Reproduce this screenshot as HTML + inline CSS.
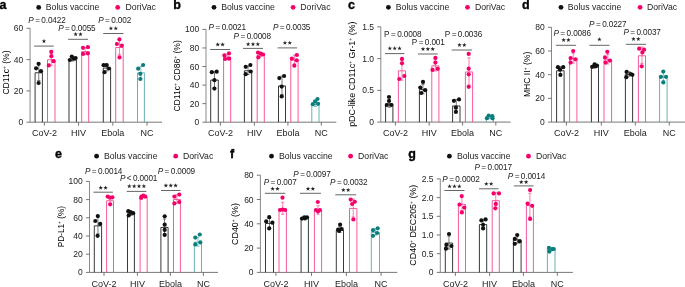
<!DOCTYPE html>
<html><head><meta charset="utf-8"><style>
html,body{margin:0;padding:0;background:#fff;overflow:hidden;width:685px;height:287px;}
svg{display:block;font-family:"Liberation Sans", sans-serif;}
svg{will-change:transform;}
</style></head><body>
<svg width="685" height="287" viewBox="0 0 685 287">
<text x="-0.5" y="8.8" font-size="12.5" text-anchor="start" font-weight="bold" font-style="normal" fill="#000" stroke="#000" stroke-width="0.35">a</text>
<circle cx="38.7" cy="7.4" r="2.4" fill="#111"/>
<text x="45.8" y="10.4" font-size="8.7" text-anchor="start" font-weight="normal" font-style="normal" fill="#222" >Bolus vaccine</text>
<circle cx="117.7" cy="7.4" r="2.4" fill="#f5006a"/>
<text x="125.6" y="10.4" font-size="8.7" text-anchor="start" font-weight="normal" font-style="normal" fill="#222" >DoriVac</text>
<line x1="30.1" y1="28.3" x2="30.1" y2="122.2" stroke="#6c6c6c" stroke-width="0.8"/>
<line x1="30.1" y1="122.2" x2="162" y2="122.2" stroke="#555" stroke-width="0.8"/>
<line x1="26.5" y1="122.2" x2="30.1" y2="122.2" stroke="#555" stroke-width="0.8"/>
<text x="23.3" y="125.2" font-size="8.5" text-anchor="end" font-weight="normal" font-style="normal" fill="#222" >0</text>
<line x1="26.5" y1="90.9" x2="30.1" y2="90.9" stroke="#555" stroke-width="0.8"/>
<text x="23.3" y="93.9" font-size="8.5" text-anchor="end" font-weight="normal" font-style="normal" fill="#222" >20</text>
<line x1="26.5" y1="59.6" x2="30.1" y2="59.6" stroke="#555" stroke-width="0.8"/>
<text x="23.3" y="62.6" font-size="8.5" text-anchor="end" font-weight="normal" font-style="normal" fill="#222" >40</text>
<line x1="26.5" y1="28.3" x2="30.1" y2="28.3" stroke="#555" stroke-width="0.8"/>
<text x="23.3" y="31.3" font-size="8.5" text-anchor="end" font-weight="normal" font-style="normal" fill="#222" >60</text>
<line x1="44.4" y1="122.2" x2="44.4" y2="125.7" stroke="#555" stroke-width="0.8"/>
<text x="44.4" y="135.6" font-size="9.0" text-anchor="middle" font-weight="normal" font-style="normal" fill="#222" >CoV-2</text>
<line x1="78.6" y1="122.2" x2="78.6" y2="125.7" stroke="#555" stroke-width="0.8"/>
<text x="78.6" y="135.6" font-size="9.0" text-anchor="middle" font-weight="normal" font-style="normal" fill="#222" >HIV</text>
<line x1="112.8" y1="122.2" x2="112.8" y2="125.7" stroke="#555" stroke-width="0.8"/>
<text x="112.8" y="135.6" font-size="9.0" text-anchor="middle" font-weight="normal" font-style="normal" fill="#222" >Ebola</text>
<line x1="147.0" y1="122.2" x2="147.0" y2="125.7" stroke="#555" stroke-width="0.8"/>
<text x="147.0" y="135.6" font-size="9.0" text-anchor="middle" font-weight="normal" font-style="normal" fill="#222" >NC</text>
<path d="M35.10,122.2 V72.75 H42.40 V122.2" fill="none" stroke="#222" stroke-width="0.9"/>
<line x1="38.75" y1="64.09740894594884" x2="38.75" y2="80.50259105405115" stroke="#444" stroke-width="0.7"/>
<line x1="37.15" y1="64.09740894594884" x2="40.35" y2="64.09740894594884" stroke="#444" stroke-width="0.7"/>
<line x1="37.15" y1="80.50259105405115" x2="40.35" y2="80.50259105405115" stroke="#444" stroke-width="0.7"/>
<circle cx="38.6" cy="63.8" r="2.1" fill="#111"/>
<circle cx="36.1" cy="68.3" r="2.1" fill="#111"/>
<circle cx="41.0" cy="71.2" r="2.1" fill="#111"/>
<circle cx="38.6" cy="83.0" r="2.1" fill="#111"/>
<path d="M47.50,122.2 V59.75 H55.00 V122.2" fill="none" stroke="#f74690" stroke-width="0.9"/>
<line x1="51.25" y1="53.38420194169318" x2="51.25" y2="65.21579805830682" stroke="#f74690" stroke-width="0.7"/>
<line x1="49.65" y1="53.38420194169318" x2="52.85" y2="53.38420194169318" stroke="#f74690" stroke-width="0.7"/>
<line x1="49.65" y1="65.21579805830682" x2="52.85" y2="65.21579805830682" stroke="#f74690" stroke-width="0.7"/>
<circle cx="51.3" cy="51.8" r="2.1" fill="#f5006a"/>
<circle cx="51.4" cy="56.2" r="2.1" fill="#f5006a"/>
<circle cx="53.5" cy="61.2" r="2.1" fill="#f5006a"/>
<circle cx="48.8" cy="65.4" r="2.1" fill="#f5006a"/>
<path d="M69.00,122.2 V60.05 H76.40 V122.2" fill="none" stroke="#222" stroke-width="0.9"/>
<line x1="72.7" y1="58.20238298045089" x2="72.7" y2="60.99761701954911" stroke="#444" stroke-width="0.7"/>
<line x1="71.10000000000001" y1="58.20238298045089" x2="74.3" y2="58.20238298045089" stroke="#444" stroke-width="0.7"/>
<line x1="71.10000000000001" y1="60.99761701954911" x2="74.3" y2="60.99761701954911" stroke="#444" stroke-width="0.7"/>
<circle cx="69.8" cy="60.0" r="2.1" fill="#111"/>
<circle cx="71.8" cy="56.6" r="2.1" fill="#111"/>
<circle cx="73.9" cy="58.5" r="2.1" fill="#111"/>
<circle cx="75.6" cy="58.1" r="2.1" fill="#111"/>
<path d="M81.70,122.2 V51.65 H88.70 V122.2" fill="none" stroke="#f74690" stroke-width="0.9"/>
<line x1="85.2" y1="47.66116780090758" x2="85.2" y2="54.73883219909243" stroke="#f74690" stroke-width="0.7"/>
<line x1="83.60000000000001" y1="47.66116780090758" x2="86.8" y2="47.66116780090758" stroke="#f74690" stroke-width="0.7"/>
<line x1="83.60000000000001" y1="54.73883219909243" x2="86.8" y2="54.73883219909243" stroke="#f74690" stroke-width="0.7"/>
<circle cx="83.0" cy="47.8" r="2.1" fill="#f5006a"/>
<circle cx="87.9" cy="47.2" r="2.1" fill="#f5006a"/>
<circle cx="83.0" cy="53.9" r="2.1" fill="#f5006a"/>
<circle cx="87.9" cy="53.3" r="2.1" fill="#f5006a"/>
<path d="M103.30,122.2 V68.05 H110.60 V122.2" fill="none" stroke="#222" stroke-width="0.9"/>
<line x1="106.94999999999999" y1="64.26495877086954" x2="106.94999999999999" y2="70.93504122913045" stroke="#444" stroke-width="0.7"/>
<line x1="105.35" y1="64.26495877086954" x2="108.54999999999998" y2="64.26495877086954" stroke="#444" stroke-width="0.7"/>
<line x1="105.35" y1="70.93504122913045" x2="108.54999999999998" y2="70.93504122913045" stroke="#444" stroke-width="0.7"/>
<circle cx="103.6" cy="65.2" r="2.1" fill="#111"/>
<circle cx="106.6" cy="65.2" r="2.1" fill="#111"/>
<circle cx="109.0" cy="68.5" r="2.1" fill="#111"/>
<circle cx="104.5" cy="72.2" r="2.1" fill="#111"/>
<path d="M115.70,122.2 V47.45 H123.20 V122.2" fill="none" stroke="#f74690" stroke-width="0.9"/>
<line x1="119.45" y1="39.335362587397455" x2="119.45" y2="54.664637412602545" stroke="#f74690" stroke-width="0.7"/>
<line x1="117.85000000000001" y1="39.335362587397455" x2="121.05" y2="39.335362587397455" stroke="#f74690" stroke-width="0.7"/>
<line x1="117.85000000000001" y1="54.664637412602545" x2="121.05" y2="54.664637412602545" stroke="#f74690" stroke-width="0.7"/>
<circle cx="119.4" cy="39.4" r="2.1" fill="#f5006a"/>
<circle cx="116.9" cy="44.0" r="2.1" fill="#f5006a"/>
<circle cx="121.9" cy="45.6" r="2.1" fill="#f5006a"/>
<circle cx="119.5" cy="57.4" r="2.1" fill="#f5006a"/>
<path d="M137.50,122.2 V72.85 H144.40 V122.2" fill="none" stroke="#5aa8a8" stroke-width="0.9"/>
<line x1="140.95" y1="66.30170788936225" x2="140.95" y2="78.49829211063776" stroke="#5aa8a8" stroke-width="0.7"/>
<line x1="139.35" y1="66.30170788936225" x2="142.54999999999998" y2="66.30170788936225" stroke="#5aa8a8" stroke-width="0.7"/>
<line x1="139.35" y1="78.49829211063776" x2="142.54999999999998" y2="78.49829211063776" stroke="#5aa8a8" stroke-width="0.7"/>
<circle cx="143.1" cy="65.0" r="2.1" fill="#0a7e7e"/>
<circle cx="138.2" cy="68.7" r="2.1" fill="#0a7e7e"/>
<circle cx="140.3" cy="73.8" r="2.1" fill="#0a7e7e"/>
<circle cx="140.3" cy="79.0" r="2.1" fill="#0a7e7e"/>
<line x1="34.1" y1="46.1" x2="53.8" y2="46.1" stroke="#666" stroke-width="1.0"/>
<polygon points="43.95,38.85 44.51,40.43 46.18,40.47 44.85,41.49 45.33,43.10 43.95,42.15 42.57,43.10 43.05,41.49 41.72,40.47 43.39,40.43" fill="#222"/>
<line x1="68.1" y1="39.3" x2="88.0" y2="39.3" stroke="#666" stroke-width="1.0"/>
<polygon points="75.62,31.95 76.18,33.53 77.86,33.57 76.53,34.59 77.01,36.20 75.62,35.25 74.24,36.20 74.72,34.59 73.39,33.57 75.07,33.53" fill="#222"/>
<polygon points="80.47,31.95 81.03,33.53 82.71,33.57 81.38,34.59 81.86,36.20 80.47,35.25 79.09,36.20 79.57,34.59 78.24,33.57 79.92,33.53" fill="#222"/>
<line x1="103.2" y1="33.5" x2="123.5" y2="33.5" stroke="#666" stroke-width="1.0"/>
<polygon points="110.92,26.05 111.48,27.63 113.16,27.67 111.83,28.69 112.31,30.30 110.92,29.35 109.54,30.30 110.02,28.69 108.69,27.67 110.37,27.63" fill="#222"/>
<polygon points="115.77,26.05 116.33,27.63 118.01,27.67 116.68,28.69 117.16,30.30 115.77,29.35 114.39,30.30 114.87,28.69 113.54,27.67 115.22,27.63" fill="#222"/>
<text x="28.3" y="22.7" font-size="8.2" letter-spacing="-0.12" fill="#222"><tspan font-style="italic">P</tspan> = 0.0422</text>
<text x="58.2" y="31.4" font-size="8.2" letter-spacing="-0.12" fill="#222"><tspan font-style="italic">P</tspan> = 0.0055</text>
<text x="98.2" y="22.7" font-size="8.2" letter-spacing="-0.12" fill="#222"><tspan font-style="italic">P</tspan> = 0.002</text>
<text transform="translate(9.1,72.5) rotate(-90) scale(0.8929,1)" font-size="9.63" text-anchor="middle" fill="#000">CD11c<tspan font-size="5.5" dy="-3.2">+</tspan><tspan dy="3.2"> </tspan>(%)</text>
<text x="173.3" y="9.0" font-size="12.5" text-anchor="start" font-weight="bold" font-style="normal" fill="#000" stroke="#000" stroke-width="0.35">b</text>
<circle cx="214.0" cy="7.3" r="2.4" fill="#111"/>
<text x="221.2" y="10.3" font-size="8.7" text-anchor="start" font-weight="normal" font-style="normal" fill="#222" >Bolus vaccine</text>
<circle cx="293.1" cy="7.3" r="2.4" fill="#f5006a"/>
<text x="300.3" y="10.3" font-size="8.7" text-anchor="start" font-weight="normal" font-style="normal" fill="#222" >DoriVac</text>
<line x1="206.0" y1="29.4" x2="206.0" y2="122.2" stroke="#6c6c6c" stroke-width="0.8"/>
<line x1="206.0" y1="122.2" x2="336.3" y2="122.2" stroke="#555" stroke-width="0.8"/>
<line x1="202.4" y1="122.2" x2="206.0" y2="122.2" stroke="#555" stroke-width="0.8"/>
<text x="199.2" y="125.2" font-size="8.5" text-anchor="end" font-weight="normal" font-style="normal" fill="#222" >0</text>
<line x1="202.4" y1="103.64" x2="206.0" y2="103.64" stroke="#555" stroke-width="0.8"/>
<text x="199.2" y="106.64" font-size="8.5" text-anchor="end" font-weight="normal" font-style="normal" fill="#222" >20</text>
<line x1="202.4" y1="85.08" x2="206.0" y2="85.08" stroke="#555" stroke-width="0.8"/>
<text x="199.2" y="88.08" font-size="8.5" text-anchor="end" font-weight="normal" font-style="normal" fill="#222" >40</text>
<line x1="202.4" y1="66.52" x2="206.0" y2="66.52" stroke="#555" stroke-width="0.8"/>
<text x="199.2" y="69.52" font-size="8.5" text-anchor="end" font-weight="normal" font-style="normal" fill="#222" >60</text>
<line x1="202.4" y1="47.96" x2="206.0" y2="47.96" stroke="#555" stroke-width="0.8"/>
<text x="199.2" y="50.96" font-size="8.5" text-anchor="end" font-weight="normal" font-style="normal" fill="#222" >80</text>
<line x1="202.4" y1="29.4" x2="206.0" y2="29.4" stroke="#555" stroke-width="0.8"/>
<text x="199.2" y="32.4" font-size="8.5" text-anchor="end" font-weight="normal" font-style="normal" fill="#222" >100</text>
<line x1="220.4" y1="122.2" x2="220.4" y2="125.7" stroke="#555" stroke-width="0.8"/>
<text x="220.4" y="135.6" font-size="9.0" text-anchor="middle" font-weight="normal" font-style="normal" fill="#222" >CoV-2</text>
<line x1="254.4" y1="122.2" x2="254.4" y2="125.7" stroke="#555" stroke-width="0.8"/>
<text x="254.4" y="135.6" font-size="9.0" text-anchor="middle" font-weight="normal" font-style="normal" fill="#222" >HIV</text>
<line x1="287.9" y1="122.2" x2="287.9" y2="125.7" stroke="#555" stroke-width="0.8"/>
<text x="287.9" y="135.6" font-size="9.0" text-anchor="middle" font-weight="normal" font-style="normal" fill="#222" >Ebola</text>
<line x1="321.3" y1="122.2" x2="321.3" y2="125.7" stroke="#555" stroke-width="0.8"/>
<text x="321.3" y="135.6" font-size="9.0" text-anchor="middle" font-weight="normal" font-style="normal" fill="#222" >NC</text>
<path d="M210.70,122.2 V80.05 H218.30 V122.2" fill="none" stroke="#222" stroke-width="0.9"/>
<line x1="214.5" y1="71.6332461650515" x2="214.5" y2="87.56675383494849" stroke="#444" stroke-width="0.7"/>
<line x1="212.9" y1="71.6332461650515" x2="216.1" y2="71.6332461650515" stroke="#444" stroke-width="0.7"/>
<line x1="212.9" y1="87.56675383494849" x2="216.1" y2="87.56675383494849" stroke="#444" stroke-width="0.7"/>
<circle cx="211.8" cy="72.2" r="2.1" fill="#111"/>
<circle cx="216.7" cy="71.7" r="2.1" fill="#111"/>
<circle cx="214.4" cy="80.2" r="2.1" fill="#111"/>
<circle cx="214.4" cy="88.6" r="2.1" fill="#111"/>
<path d="M223.60,122.2 V57.05 H230.70 V122.2" fill="none" stroke="#f74690" stroke-width="0.9"/>
<line x1="227.14999999999998" y1="53.90138924629727" x2="227.14999999999998" y2="59.29861075370273" stroke="#f74690" stroke-width="0.7"/>
<line x1="225.54999999999998" y1="53.90138924629727" x2="228.74999999999997" y2="53.90138924629727" stroke="#f74690" stroke-width="0.7"/>
<line x1="225.54999999999998" y1="59.29861075370273" x2="228.74999999999997" y2="59.29861075370273" stroke="#f74690" stroke-width="0.7"/>
<circle cx="224.4" cy="55.4" r="2.1" fill="#f5006a"/>
<circle cx="229.0" cy="53.4" r="2.1" fill="#f5006a"/>
<circle cx="225.1" cy="59.0" r="2.1" fill="#f5006a"/>
<circle cx="229.0" cy="58.7" r="2.1" fill="#f5006a"/>
<path d="M244.40,122.2 V70.75 H251.70 V122.2" fill="none" stroke="#222" stroke-width="0.9"/>
<line x1="248.05" y1="66.07438367414487" x2="248.05" y2="74.52561632585513" stroke="#444" stroke-width="0.7"/>
<line x1="246.45000000000002" y1="66.07438367414487" x2="249.65" y2="66.07438367414487" stroke="#444" stroke-width="0.7"/>
<line x1="246.45000000000002" y1="74.52561632585513" x2="249.65" y2="74.52561632585513" stroke="#444" stroke-width="0.7"/>
<circle cx="245.7" cy="66.8" r="2.1" fill="#111"/>
<circle cx="250.4" cy="65.0" r="2.1" fill="#111"/>
<circle cx="245.7" cy="74.2" r="2.1" fill="#111"/>
<circle cx="250.7" cy="71.5" r="2.1" fill="#111"/>
<path d="M257.20,122.2 V54.95 H264.30 V122.2" fill="none" stroke="#f74690" stroke-width="0.9"/>
<line x1="260.75" y1="52.460392194562885" x2="260.75" y2="56.539607805437115" stroke="#f74690" stroke-width="0.7"/>
<line x1="259.15" y1="52.460392194562885" x2="262.35" y2="52.460392194562885" stroke="#f74690" stroke-width="0.7"/>
<line x1="259.15" y1="56.539607805437115" x2="262.35" y2="56.539607805437115" stroke="#f74690" stroke-width="0.7"/>
<circle cx="258.0" cy="52.5" r="2.1" fill="#f5006a"/>
<circle cx="260.8" cy="53.7" r="2.1" fill="#f5006a"/>
<circle cx="263.1" cy="54.5" r="2.1" fill="#f5006a"/>
<circle cx="258.4" cy="57.3" r="2.1" fill="#f5006a"/>
<path d="M278.50,122.2 V85.95 H285.50 V122.2" fill="none" stroke="#222" stroke-width="0.9"/>
<line x1="282.0" y1="76.20793349141323" x2="282.0" y2="94.79206650858677" stroke="#444" stroke-width="0.7"/>
<line x1="280.4" y1="76.20793349141323" x2="283.6" y2="76.20793349141323" stroke="#444" stroke-width="0.7"/>
<line x1="280.4" y1="94.79206650858677" x2="283.6" y2="94.79206650858677" stroke="#444" stroke-width="0.7"/>
<circle cx="279.3" cy="78.1" r="2.1" fill="#111"/>
<circle cx="284.1" cy="76.0" r="2.1" fill="#111"/>
<circle cx="281.7" cy="86.6" r="2.1" fill="#111"/>
<circle cx="281.7" cy="96.4" r="2.1" fill="#111"/>
<path d="M290.80,122.2 V59.95 H298.10 V122.2" fill="none" stroke="#f74690" stroke-width="0.9"/>
<line x1="294.45000000000005" y1="55.05599654965631" x2="294.45000000000005" y2="63.94400345034369" stroke="#f74690" stroke-width="0.7"/>
<line x1="292.85" y1="55.05599654965631" x2="296.05000000000007" y2="55.05599654965631" stroke="#f74690" stroke-width="0.7"/>
<line x1="292.85" y1="63.94400345034369" x2="296.05000000000007" y2="63.94400345034369" stroke="#f74690" stroke-width="0.7"/>
<circle cx="296.9" cy="55.0" r="2.1" fill="#f5006a"/>
<circle cx="291.9" cy="58.7" r="2.1" fill="#f5006a"/>
<circle cx="296.7" cy="60.3" r="2.1" fill="#f5006a"/>
<circle cx="294.3" cy="65.7" r="2.1" fill="#f5006a"/>
<path d="M311.80,122.2 V104.55 H319.00 V122.2" fill="none" stroke="#5aa8a8" stroke-width="0.9"/>
<line x1="315.4" y1="101.69168108424154" x2="315.4" y2="106.50831891575845" stroke="#5aa8a8" stroke-width="0.7"/>
<line x1="313.79999999999995" y1="101.69168108424154" x2="317.0" y2="101.69168108424154" stroke="#5aa8a8" stroke-width="0.7"/>
<line x1="313.79999999999995" y1="106.50831891575845" x2="317.0" y2="106.50831891575845" stroke="#5aa8a8" stroke-width="0.7"/>
<circle cx="312.8" cy="104.2" r="2.1" fill="#0a7e7e"/>
<circle cx="315.1" cy="101.4" r="2.1" fill="#0a7e7e"/>
<circle cx="317.5" cy="99.0" r="2.1" fill="#0a7e7e"/>
<circle cx="318.1" cy="103.8" r="2.1" fill="#0a7e7e"/>
<line x1="210.2" y1="49.5" x2="230.1" y2="49.5" stroke="#666" stroke-width="1.0"/>
<polygon points="217.72,42.25 218.28,43.83 219.96,43.87 218.63,44.89 219.11,46.50 217.72,45.55 216.34,46.50 216.82,44.89 215.49,43.87 217.17,43.83" fill="#222"/>
<polygon points="222.57,42.25 223.13,43.83 224.81,43.87 223.48,44.89 223.96,46.50 222.57,45.55 221.19,46.50 221.67,44.89 220.34,43.87 222.02,43.83" fill="#222"/>
<line x1="243.0" y1="48.4" x2="263.0" y2="48.4" stroke="#666" stroke-width="1.0"/>
<polygon points="248.15,41.85 248.71,43.43 250.38,43.47 249.05,44.49 249.53,46.10 248.15,45.15 246.77,46.10 247.25,44.49 245.92,43.47 247.59,43.43" fill="#222"/>
<polygon points="253.00,41.85 253.56,43.43 255.23,43.47 253.90,44.49 254.38,46.10 253.00,45.15 251.62,46.10 252.10,44.49 250.77,43.47 252.44,43.43" fill="#222"/>
<polygon points="257.85,41.85 258.41,43.43 260.08,43.47 258.75,44.49 259.23,46.10 257.85,45.15 256.47,46.10 256.95,44.49 255.62,43.47 257.29,43.43" fill="#222"/>
<line x1="277.6" y1="47.9" x2="297.1" y2="47.9" stroke="#666" stroke-width="1.0"/>
<polygon points="284.93,40.55 285.48,42.13 287.16,42.17 285.83,43.19 286.31,44.80 284.93,43.85 283.54,44.80 284.02,43.19 282.69,42.17 284.37,42.13" fill="#222"/>
<polygon points="289.78,40.55 290.33,42.13 292.01,42.17 290.68,43.19 291.16,44.80 289.78,43.85 288.39,44.80 288.87,43.19 287.54,42.17 289.22,42.13" fill="#222"/>
<text x="208.6" y="29.7" font-size="8.2" letter-spacing="-0.12" fill="#222"><tspan font-style="italic">P</tspan> = 0.0021</text>
<text x="233.6" y="39.2" font-size="8.2" letter-spacing="-0.12" fill="#222"><tspan font-style="italic">P</tspan> = 0.0008</text>
<text x="272.9" y="30.0" font-size="8.2" letter-spacing="-0.12" fill="#222"><tspan font-style="italic">P</tspan> = 0.0035</text>
<text transform="translate(180.2,75.9) rotate(-90) scale(0.8929,1)" font-size="9.63" text-anchor="middle" fill="#000">CD11c<tspan font-size="5.5" dy="-3.2">+</tspan><tspan dy="3.2"> </tspan>CD86<tspan font-size="5.5" dy="-3.2">+</tspan><tspan dy="3.2"> </tspan>(%)</text>
<text x="348.1" y="8.9" font-size="12.5" text-anchor="start" font-weight="bold" font-style="normal" fill="#000" stroke="#000" stroke-width="0.35">c</text>
<circle cx="388.4" cy="7.3" r="2.4" fill="#111"/>
<text x="395.8" y="10.3" font-size="8.7" text-anchor="start" font-weight="normal" font-style="normal" fill="#222" >Bolus vaccine</text>
<circle cx="467.5" cy="7.3" r="2.4" fill="#f5006a"/>
<text x="474.9" y="10.3" font-size="8.7" text-anchor="start" font-weight="normal" font-style="normal" fill="#222" >DoriVac</text>
<line x1="380.8" y1="26.85" x2="380.8" y2="122.1" stroke="#6c6c6c" stroke-width="0.8"/>
<line x1="380.8" y1="122.1" x2="510.7" y2="122.1" stroke="#555" stroke-width="0.8"/>
<line x1="377.2" y1="122.1" x2="380.8" y2="122.1" stroke="#555" stroke-width="0.8"/>
<text x="374.0" y="125.1" font-size="8.5" text-anchor="end" font-weight="normal" font-style="normal" fill="#222" >0</text>
<line x1="377.2" y1="90.35" x2="380.8" y2="90.35" stroke="#555" stroke-width="0.8"/>
<text x="374.0" y="93.35" font-size="8.5" text-anchor="end" font-weight="normal" font-style="normal" fill="#222" >0.5</text>
<line x1="377.2" y1="58.6" x2="380.8" y2="58.6" stroke="#555" stroke-width="0.8"/>
<text x="374.0" y="61.6" font-size="8.5" text-anchor="end" font-weight="normal" font-style="normal" fill="#222" >1.0</text>
<line x1="377.2" y1="26.85" x2="380.8" y2="26.85" stroke="#555" stroke-width="0.8"/>
<text x="374.0" y="29.85" font-size="8.5" text-anchor="end" font-weight="normal" font-style="normal" fill="#222" >1.5</text>
<line x1="395.4" y1="122.1" x2="395.4" y2="125.6" stroke="#555" stroke-width="0.8"/>
<text x="395.4" y="135.6" font-size="9.0" text-anchor="middle" font-weight="normal" font-style="normal" fill="#222" >CoV-2</text>
<line x1="429.2" y1="122.1" x2="429.2" y2="125.6" stroke="#555" stroke-width="0.8"/>
<text x="429.2" y="135.6" font-size="9.0" text-anchor="middle" font-weight="normal" font-style="normal" fill="#222" >HIV</text>
<line x1="462.6" y1="122.1" x2="462.6" y2="125.6" stroke="#555" stroke-width="0.8"/>
<text x="462.6" y="135.6" font-size="9.0" text-anchor="middle" font-weight="normal" font-style="normal" fill="#222" >Ebola</text>
<line x1="495.8" y1="122.1" x2="495.8" y2="125.6" stroke="#555" stroke-width="0.8"/>
<text x="495.8" y="135.6" font-size="9.0" text-anchor="middle" font-weight="normal" font-style="normal" fill="#222" >NC</text>
<path d="M385.60,122.1 V103.85 H392.90 V122.1" fill="none" stroke="#222" stroke-width="0.9"/>
<line x1="389.25" y1="99.57029156897465" x2="389.25" y2="107.22970843102536" stroke="#444" stroke-width="0.7"/>
<line x1="387.65" y1="99.57029156897465" x2="390.85" y2="99.57029156897465" stroke="#444" stroke-width="0.7"/>
<line x1="387.65" y1="107.22970843102536" x2="390.85" y2="107.22970843102536" stroke="#444" stroke-width="0.7"/>
<circle cx="389.0" cy="97.0" r="2.1" fill="#111"/>
<circle cx="389.0" cy="101.0" r="2.1" fill="#111"/>
<circle cx="386.8" cy="105.0" r="2.1" fill="#111"/>
<circle cx="391.3" cy="105.0" r="2.1" fill="#111"/>
<path d="M398.40,122.1 V70.85 H405.50 V122.1" fill="none" stroke="#f74690" stroke-width="0.9"/>
<line x1="401.95" y1="60.68506304703937" x2="401.95" y2="80.11493695296063" stroke="#f74690" stroke-width="0.7"/>
<line x1="400.34999999999997" y1="60.68506304703937" x2="403.55" y2="60.68506304703937" stroke="#f74690" stroke-width="0.7"/>
<line x1="400.34999999999997" y1="80.11493695296063" x2="403.55" y2="80.11493695296063" stroke="#f74690" stroke-width="0.7"/>
<circle cx="402.0" cy="58.9" r="2.1" fill="#f5006a"/>
<circle cx="402.0" cy="63.3" r="2.1" fill="#f5006a"/>
<circle cx="404.4" cy="76.0" r="2.1" fill="#f5006a"/>
<circle cx="399.3" cy="79.0" r="2.1" fill="#f5006a"/>
<path d="M419.40,122.1 V89.55 H426.50 V122.1" fill="none" stroke="#222" stroke-width="0.9"/>
<line x1="422.95" y1="84.36678403901392" x2="422.95" y2="93.83321596098607" stroke="#444" stroke-width="0.7"/>
<line x1="421.34999999999997" y1="84.36678403901392" x2="424.55" y2="84.36678403901392" stroke="#444" stroke-width="0.7"/>
<line x1="421.34999999999997" y1="93.83321596098607" x2="424.55" y2="93.83321596098607" stroke="#444" stroke-width="0.7"/>
<circle cx="423.0" cy="81.9" r="2.1" fill="#111"/>
<circle cx="420.3" cy="87.5" r="2.1" fill="#111"/>
<circle cx="425.2" cy="90.2" r="2.1" fill="#111"/>
<circle cx="421.2" cy="93.0" r="2.1" fill="#111"/>
<path d="M431.80,122.1 V65.85 H438.90 V122.1" fill="none" stroke="#f74690" stroke-width="0.9"/>
<line x1="435.35" y1="59.788701873303594" x2="435.35" y2="71.01129812669642" stroke="#f74690" stroke-width="0.7"/>
<line x1="433.75" y1="59.788701873303594" x2="436.95000000000005" y2="59.788701873303594" stroke="#f74690" stroke-width="0.7"/>
<line x1="433.75" y1="71.01129812669642" x2="436.95000000000005" y2="71.01129812669642" stroke="#f74690" stroke-width="0.7"/>
<circle cx="435.4" cy="57.9" r="2.1" fill="#f5006a"/>
<circle cx="435.4" cy="62.6" r="2.1" fill="#f5006a"/>
<circle cx="432.5" cy="69.9" r="2.1" fill="#f5006a"/>
<circle cx="437.7" cy="68.8" r="2.1" fill="#f5006a"/>
<path d="M452.60,122.1 V105.95 H460.00 V122.1" fill="none" stroke="#222" stroke-width="0.9"/>
<line x1="456.3" y1="99.6152740080782" x2="456.3" y2="111.3847259919218" stroke="#444" stroke-width="0.7"/>
<line x1="454.7" y1="99.6152740080782" x2="457.90000000000003" y2="99.6152740080782" stroke="#444" stroke-width="0.7"/>
<line x1="454.7" y1="111.3847259919218" x2="457.90000000000003" y2="111.3847259919218" stroke="#444" stroke-width="0.7"/>
<circle cx="453.9" cy="100.8" r="2.1" fill="#111"/>
<circle cx="459.0" cy="99.4" r="2.1" fill="#111"/>
<circle cx="455.9" cy="107.7" r="2.1" fill="#111"/>
<circle cx="455.9" cy="111.9" r="2.1" fill="#111"/>
<path d="M465.40,122.1 V71.95 H472.60 V122.1" fill="none" stroke="#f74690" stroke-width="0.9"/>
<line x1="469.0" y1="57.85928276568029" x2="469.0" y2="85.14071723431971" stroke="#f74690" stroke-width="0.7"/>
<line x1="467.4" y1="57.85928276568029" x2="470.6" y2="57.85928276568029" stroke="#f74690" stroke-width="0.7"/>
<line x1="467.4" y1="85.14071723431971" x2="470.6" y2="85.14071723431971" stroke="#f74690" stroke-width="0.7"/>
<circle cx="468.7" cy="53.9" r="2.1" fill="#f5006a"/>
<circle cx="468.7" cy="68.7" r="2.1" fill="#f5006a"/>
<circle cx="468.7" cy="74.3" r="2.1" fill="#f5006a"/>
<circle cx="468.7" cy="86.8" r="2.1" fill="#f5006a"/>
<path d="M486.30,122.1 V117.95 H493.40 V122.1" fill="none" stroke="#5aa8a8" stroke-width="0.9"/>
<line x1="489.85" y1="116.08460841696252" x2="489.85" y2="118.91539158303748" stroke="#5aa8a8" stroke-width="0.7"/>
<line x1="488.25" y1="116.08460841696252" x2="491.45000000000005" y2="116.08460841696252" stroke="#5aa8a8" stroke-width="0.7"/>
<line x1="488.25" y1="118.91539158303748" x2="491.45000000000005" y2="118.91539158303748" stroke="#5aa8a8" stroke-width="0.7"/>
<circle cx="488.7" cy="115.5" r="2.1" fill="#0a7e7e"/>
<circle cx="492.3" cy="116.2" r="2.1" fill="#0a7e7e"/>
<circle cx="486.9" cy="118.2" r="2.1" fill="#0a7e7e"/>
<circle cx="492.6" cy="118.3" r="2.1" fill="#0a7e7e"/>
<line x1="385.0" y1="53.6" x2="404.4" y2="53.6" stroke="#666" stroke-width="1.0"/>
<polygon points="389.85,46.05 390.41,47.63 392.08,47.67 390.75,48.69 391.23,50.30 389.85,49.35 388.47,50.30 388.95,48.69 387.62,47.67 389.29,47.63" fill="#222"/>
<polygon points="394.70,46.05 395.26,47.63 396.93,47.67 395.60,48.69 396.08,50.30 394.70,49.35 393.32,50.30 393.80,48.69 392.47,47.67 394.14,47.63" fill="#222"/>
<polygon points="399.55,46.05 400.11,47.63 401.78,47.67 400.45,48.69 400.93,50.30 399.55,49.35 398.17,50.30 398.65,48.69 397.32,47.67 398.99,47.63" fill="#222"/>
<line x1="418.0" y1="54.0" x2="437.7" y2="54.0" stroke="#666" stroke-width="1.0"/>
<polygon points="423.00,46.75 423.56,48.33 425.23,48.37 423.90,49.39 424.38,51.00 423.00,50.05 421.62,51.00 422.10,49.39 420.77,48.37 422.44,48.33" fill="#222"/>
<polygon points="427.85,46.75 428.41,48.33 430.08,48.37 428.75,49.39 429.23,51.00 427.85,50.05 426.47,51.00 426.95,49.39 425.62,48.37 427.29,48.33" fill="#222"/>
<polygon points="432.70,46.75 433.26,48.33 434.93,48.37 433.60,49.39 434.08,51.00 432.70,50.05 431.32,51.00 431.80,49.39 430.47,48.37 432.14,48.33" fill="#222"/>
<line x1="451.7" y1="50.0" x2="472.1" y2="50.0" stroke="#666" stroke-width="1.0"/>
<polygon points="459.47,42.65 460.03,44.23 461.71,44.27 460.38,45.29 460.86,46.90 459.47,45.95 458.09,46.90 458.57,45.29 457.24,44.27 458.92,44.23" fill="#222"/>
<polygon points="464.32,42.65 464.88,44.23 466.56,44.27 465.23,45.29 465.71,46.90 464.32,45.95 462.94,46.90 463.42,45.29 462.09,44.27 463.77,44.23" fill="#222"/>
<text x="384.1" y="36.9" font-size="8.2" letter-spacing="-0.12" fill="#222"><tspan font-style="normal">P</tspan> = 0.0008</text>
<text x="411.8" y="44.6" font-size="8.2" letter-spacing="-0.12" fill="#222"><tspan font-style="normal">P</tspan> = 0.001</text>
<text x="444.8" y="36.9" font-size="8.2" letter-spacing="-0.12" fill="#222"><tspan font-style="normal">P</tspan> = 0.0036</text>
<text transform="translate(355.2,74.2) rotate(-90) scale(0.8929,1)" font-size="9.97" text-anchor="middle" fill="#000">pDC-like CD11c<tspan font-size="5.5" dy="-3.2">+</tspan><tspan dy="3.2"> </tspan>Gr-1<tspan font-size="5.5" dy="-3.2">+</tspan><tspan dy="3.2"> </tspan>(%)</text>
<text x="522.1" y="9.0" font-size="12.5" text-anchor="start" font-weight="bold" font-style="normal" fill="#000" stroke="#000" stroke-width="0.35">d</text>
<circle cx="561.0" cy="7.3" r="2.4" fill="#111"/>
<text x="567.8" y="10.3" font-size="8.7" text-anchor="start" font-weight="normal" font-style="normal" fill="#222" >Bolus vaccine</text>
<circle cx="640.1" cy="7.3" r="2.4" fill="#f5006a"/>
<text x="646.9" y="10.3" font-size="8.7" text-anchor="start" font-weight="normal" font-style="normal" fill="#222" >DoriVac</text>
<line x1="551.5" y1="27.3" x2="551.5" y2="122.1" stroke="#6c6c6c" stroke-width="0.8"/>
<line x1="551.5" y1="122.1" x2="685" y2="122.1" stroke="#555" stroke-width="0.8"/>
<line x1="547.9" y1="122.1" x2="551.5" y2="122.1" stroke="#555" stroke-width="0.8"/>
<text x="544.7" y="125.1" font-size="8.5" text-anchor="end" font-weight="normal" font-style="normal" fill="#222" >0</text>
<line x1="547.9" y1="98.4" x2="551.5" y2="98.4" stroke="#555" stroke-width="0.8"/>
<text x="544.7" y="101.4" font-size="8.5" text-anchor="end" font-weight="normal" font-style="normal" fill="#222" >20</text>
<line x1="547.9" y1="74.7" x2="551.5" y2="74.7" stroke="#555" stroke-width="0.8"/>
<text x="544.7" y="77.7" font-size="8.5" text-anchor="end" font-weight="normal" font-style="normal" fill="#222" >40</text>
<line x1="547.9" y1="51.0" x2="551.5" y2="51.0" stroke="#555" stroke-width="0.8"/>
<text x="544.7" y="54.0" font-size="8.5" text-anchor="end" font-weight="normal" font-style="normal" fill="#222" >60</text>
<line x1="547.9" y1="27.3" x2="551.5" y2="27.3" stroke="#555" stroke-width="0.8"/>
<text x="544.7" y="30.3" font-size="8.5" text-anchor="end" font-weight="normal" font-style="normal" fill="#222" >80</text>
<line x1="566.4" y1="122.1" x2="566.4" y2="125.6" stroke="#555" stroke-width="0.8"/>
<text x="566.4" y="135.6" font-size="9.0" text-anchor="middle" font-weight="normal" font-style="normal" fill="#222" >CoV-2</text>
<line x1="601.3" y1="122.1" x2="601.3" y2="125.6" stroke="#555" stroke-width="0.8"/>
<text x="601.3" y="135.6" font-size="9.0" text-anchor="middle" font-weight="normal" font-style="normal" fill="#222" >HIV</text>
<line x1="635.3" y1="122.1" x2="635.3" y2="125.6" stroke="#555" stroke-width="0.8"/>
<text x="635.3" y="135.6" font-size="9.0" text-anchor="middle" font-weight="normal" font-style="normal" fill="#222" >Ebola</text>
<line x1="669.3" y1="122.1" x2="669.3" y2="125.6" stroke="#555" stroke-width="0.8"/>
<text x="669.3" y="135.6" font-size="9.0" text-anchor="middle" font-weight="normal" font-style="normal" fill="#222" >NC</text>
<path d="M556.60,122.1 V70.75 H564.10 V122.1" fill="none" stroke="#222" stroke-width="0.9"/>
<line x1="560.35" y1="66.67003213971986" x2="560.35" y2="73.92996786028013" stroke="#444" stroke-width="0.7"/>
<line x1="558.75" y1="66.67003213971986" x2="561.95" y2="66.67003213971986" stroke="#444" stroke-width="0.7"/>
<line x1="558.75" y1="73.92996786028013" x2="561.95" y2="73.92996786028013" stroke="#444" stroke-width="0.7"/>
<circle cx="557.9" cy="67.2" r="2.1" fill="#111"/>
<circle cx="563.2" cy="67.2" r="2.1" fill="#111"/>
<circle cx="560.0" cy="69.7" r="2.1" fill="#111"/>
<circle cx="560.4" cy="74.9" r="2.1" fill="#111"/>
<path d="M569.60,122.1 V58.65 H576.90 V122.1" fill="none" stroke="#f74690" stroke-width="0.9"/>
<line x1="573.25" y1="53.31430659987756" x2="573.25" y2="63.085693400122445" stroke="#f74690" stroke-width="0.7"/>
<line x1="571.65" y1="53.31430659987756" x2="574.85" y2="53.31430659987756" stroke="#f74690" stroke-width="0.7"/>
<line x1="571.65" y1="63.085693400122445" x2="574.85" y2="63.085693400122445" stroke="#f74690" stroke-width="0.7"/>
<circle cx="573.2" cy="51.0" r="2.1" fill="#f5006a"/>
<circle cx="570.6" cy="58.1" r="2.1" fill="#f5006a"/>
<circle cx="575.5" cy="59.3" r="2.1" fill="#f5006a"/>
<circle cx="570.6" cy="62.6" r="2.1" fill="#f5006a"/>
<path d="M591.40,122.1 V67.05 H598.50 V122.1" fill="none" stroke="#222" stroke-width="0.9"/>
<line x1="594.95" y1="65.4704720750095" x2="594.95" y2="67.72952792499049" stroke="#444" stroke-width="0.7"/>
<line x1="593.35" y1="65.4704720750095" x2="596.5500000000001" y2="65.4704720750095" stroke="#444" stroke-width="0.7"/>
<line x1="593.35" y1="67.72952792499049" x2="596.5500000000001" y2="67.72952792499049" stroke="#444" stroke-width="0.7"/>
<circle cx="592.2" cy="66.8" r="2.1" fill="#111"/>
<circle cx="594.6" cy="64.3" r="2.1" fill="#111"/>
<circle cx="597.0" cy="65.5" r="2.1" fill="#111"/>
<circle cx="595.0" cy="66.5" r="2.1" fill="#111"/>
<path d="M604.00,122.1 V59.75 H611.60 V122.1" fill="none" stroke="#f74690" stroke-width="0.9"/>
<line x1="607.8" y1="54.58548341113676" x2="607.8" y2="64.01451658886324" stroke="#f74690" stroke-width="0.7"/>
<line x1="606.1999999999999" y1="54.58548341113676" x2="609.4" y2="54.58548341113676" stroke="#f74690" stroke-width="0.7"/>
<line x1="606.1999999999999" y1="64.01451658886324" x2="609.4" y2="64.01451658886324" stroke="#f74690" stroke-width="0.7"/>
<circle cx="607.3" cy="51.8" r="2.1" fill="#f5006a"/>
<circle cx="605.0" cy="57.4" r="2.1" fill="#f5006a"/>
<circle cx="609.9" cy="60.6" r="2.1" fill="#f5006a"/>
<circle cx="605.6" cy="62.6" r="2.1" fill="#f5006a"/>
<path d="M625.40,122.1 V74.45 H632.60 V122.1" fill="none" stroke="#222" stroke-width="0.9"/>
<line x1="629.0" y1="71.81006088364691" x2="629.0" y2="76.18993911635309" stroke="#444" stroke-width="0.7"/>
<line x1="627.4" y1="71.81006088364691" x2="630.6" y2="71.81006088364691" stroke="#444" stroke-width="0.7"/>
<line x1="627.4" y1="76.18993911635309" x2="630.6" y2="76.18993911635309" stroke="#444" stroke-width="0.7"/>
<circle cx="626.6" cy="71.9" r="2.1" fill="#111"/>
<circle cx="630.7" cy="74.0" r="2.1" fill="#111"/>
<circle cx="632.4" cy="74.8" r="2.1" fill="#111"/>
<circle cx="626.3" cy="77.2" r="2.1" fill="#111"/>
<path d="M638.40,122.1 V55.75 H645.50 V122.1" fill="none" stroke="#f74690" stroke-width="0.9"/>
<line x1="641.95" y1="47.132432022525514" x2="641.95" y2="63.46756797747448" stroke="#f74690" stroke-width="0.7"/>
<line x1="640.35" y1="47.132432022525514" x2="643.5500000000001" y2="47.132432022525514" stroke="#f74690" stroke-width="0.7"/>
<line x1="640.35" y1="63.46756797747448" x2="643.5500000000001" y2="63.46756797747448" stroke="#f74690" stroke-width="0.7"/>
<circle cx="639.2" cy="48.7" r="2.1" fill="#f5006a"/>
<circle cx="644.1" cy="49.7" r="2.1" fill="#f5006a"/>
<circle cx="642.4" cy="52.4" r="2.1" fill="#f5006a"/>
<circle cx="641.7" cy="66.3" r="2.1" fill="#f5006a"/>
<path d="M659.60,122.1 V76.95 H667.10 V122.1" fill="none" stroke="#5aa8a8" stroke-width="0.9"/>
<line x1="663.35" y1="72.08940669146051" x2="663.35" y2="80.91059330853949" stroke="#5aa8a8" stroke-width="0.7"/>
<line x1="661.75" y1="72.08940669146051" x2="664.95" y2="72.08940669146051" stroke="#5aa8a8" stroke-width="0.7"/>
<line x1="661.75" y1="80.91059330853949" x2="664.95" y2="80.91059330853949" stroke="#5aa8a8" stroke-width="0.7"/>
<circle cx="663.3" cy="71.6" r="2.1" fill="#0a7e7e"/>
<circle cx="660.9" cy="76.8" r="2.1" fill="#0a7e7e"/>
<circle cx="666.0" cy="76.8" r="2.1" fill="#0a7e7e"/>
<circle cx="663.3" cy="82.4" r="2.1" fill="#0a7e7e"/>
<line x1="555.9" y1="45.3" x2="576.1" y2="45.3" stroke="#666" stroke-width="1.0"/>
<polygon points="563.58,37.65 564.13,39.23 565.81,39.27 564.48,40.29 564.96,41.90 563.58,40.95 562.19,41.90 562.67,40.29 561.34,39.27 563.02,39.23" fill="#222"/>
<polygon points="568.42,37.65 568.98,39.23 570.66,39.27 569.33,40.29 569.81,41.90 568.42,40.95 567.04,41.90 567.52,40.29 566.19,39.27 567.87,39.23" fill="#222"/>
<line x1="589.3" y1="45.3" x2="609.5" y2="45.3" stroke="#666" stroke-width="1.0"/>
<polygon points="599.40,37.05 599.96,38.63 601.63,38.67 600.30,39.69 600.78,41.30 599.40,40.35 598.02,41.30 598.50,39.69 597.17,38.67 598.84,38.63" fill="#222"/>
<line x1="625.8" y1="44.3" x2="646.0" y2="44.3" stroke="#666" stroke-width="1.0"/>
<polygon points="633.48,36.65 634.03,38.23 635.71,38.27 634.38,39.29 634.86,40.90 633.48,39.95 632.09,40.90 632.57,39.29 631.24,38.27 632.92,38.23" fill="#222"/>
<polygon points="638.32,36.65 638.88,38.23 640.56,38.27 639.23,39.29 639.71,40.90 638.32,39.95 636.94,40.90 637.42,39.29 636.09,38.27 637.77,38.23" fill="#222"/>
<text x="553.5" y="36.0" font-size="8.2" letter-spacing="-0.12" fill="#222"><tspan font-style="italic">P</tspan> = 0.0086</text>
<text x="589.1" y="26.7" font-size="8.2" letter-spacing="-0.12" fill="#222"><tspan font-style="italic">P</tspan> = 0.0227</text>
<text x="623.4" y="34.5" font-size="8.2" letter-spacing="-0.12" fill="#222"><tspan font-style="italic">P</tspan> = 0.0037</text>
<text transform="translate(529.7,74.4) rotate(-90) scale(0.8929,1)" font-size="9.63" text-anchor="middle" fill="#000">MHC II<tspan font-size="5.5" dy="-3.2">+</tspan><tspan dy="3.2"> </tspan>(%)</text>
<text x="55.0" y="157.9" font-size="12.5" text-anchor="start" font-weight="bold" font-style="normal" fill="#000" stroke="#000" stroke-width="0.35">e</text>
<circle cx="96.6" cy="156.2" r="2.4" fill="#111"/>
<text x="103.9" y="159.2" font-size="8.7" text-anchor="start" font-weight="normal" font-style="normal" fill="#222" >Bolus vaccine</text>
<circle cx="175.7" cy="156.2" r="2.4" fill="#f5006a"/>
<text x="183.0" y="159.2" font-size="8.7" text-anchor="start" font-weight="normal" font-style="normal" fill="#222" >DoriVac</text>
<line x1="89.5" y1="181.4" x2="89.5" y2="272.4" stroke="#6c6c6c" stroke-width="0.8"/>
<line x1="89.5" y1="272.4" x2="218" y2="272.4" stroke="#555" stroke-width="0.8"/>
<line x1="85.9" y1="272.4" x2="89.5" y2="272.4" stroke="#555" stroke-width="0.8"/>
<text x="82.7" y="275.4" font-size="8.5" text-anchor="end" font-weight="normal" font-style="normal" fill="#222" >0</text>
<line x1="85.9" y1="254.2" x2="89.5" y2="254.2" stroke="#555" stroke-width="0.8"/>
<text x="82.7" y="257.2" font-size="8.5" text-anchor="end" font-weight="normal" font-style="normal" fill="#222" >20</text>
<line x1="85.9" y1="236.0" x2="89.5" y2="236.0" stroke="#555" stroke-width="0.8"/>
<text x="82.7" y="239.0" font-size="8.5" text-anchor="end" font-weight="normal" font-style="normal" fill="#222" >40</text>
<line x1="85.9" y1="217.8" x2="89.5" y2="217.8" stroke="#555" stroke-width="0.8"/>
<text x="82.7" y="220.8" font-size="8.5" text-anchor="end" font-weight="normal" font-style="normal" fill="#222" >60</text>
<line x1="85.9" y1="199.6" x2="89.5" y2="199.6" stroke="#555" stroke-width="0.8"/>
<text x="82.7" y="202.6" font-size="8.5" text-anchor="end" font-weight="normal" font-style="normal" fill="#222" >80</text>
<line x1="85.9" y1="181.4" x2="89.5" y2="181.4" stroke="#555" stroke-width="0.8"/>
<text x="82.7" y="184.4" font-size="8.5" text-anchor="end" font-weight="normal" font-style="normal" fill="#222" >100</text>
<line x1="104.0" y1="272.4" x2="104.0" y2="275.9" stroke="#555" stroke-width="0.8"/>
<text x="104.0" y="287.0" font-size="9.0" text-anchor="middle" font-weight="normal" font-style="normal" fill="#222" >CoV-2</text>
<line x1="137.4" y1="272.4" x2="137.4" y2="275.9" stroke="#555" stroke-width="0.8"/>
<text x="137.4" y="287.0" font-size="9.0" text-anchor="middle" font-weight="normal" font-style="normal" fill="#222" >HIV</text>
<line x1="170.4" y1="272.4" x2="170.4" y2="275.9" stroke="#555" stroke-width="0.8"/>
<text x="170.4" y="287.0" font-size="9.0" text-anchor="middle" font-weight="normal" font-style="normal" fill="#222" >Ebola</text>
<line x1="203.4" y1="272.4" x2="203.4" y2="275.9" stroke="#555" stroke-width="0.8"/>
<text x="203.4" y="287.0" font-size="9.0" text-anchor="middle" font-weight="normal" font-style="normal" fill="#222" >NC</text>
<path d="M94.30,272.4 V225.85 H101.60 V272.4" fill="none" stroke="#222" stroke-width="0.9"/>
<line x1="97.94999999999999" y1="217.02344541791396" x2="97.94999999999999" y2="233.77655458208605" stroke="#444" stroke-width="0.7"/>
<line x1="96.35" y1="217.02344541791396" x2="99.54999999999998" y2="217.02344541791396" stroke="#444" stroke-width="0.7"/>
<line x1="96.35" y1="233.77655458208605" x2="99.54999999999998" y2="233.77655458208605" stroke="#444" stroke-width="0.7"/>
<circle cx="97.8" cy="216.1" r="2.1" fill="#111"/>
<circle cx="95.3" cy="221.0" r="2.1" fill="#111"/>
<circle cx="100.2" cy="223.9" r="2.1" fill="#111"/>
<circle cx="97.6" cy="235.8" r="2.1" fill="#111"/>
<path d="M106.60,272.4 V200.75 H113.50 V272.4" fill="none" stroke="#f74690" stroke-width="0.9"/>
<line x1="110.05" y1="196.72101038466627" x2="110.05" y2="203.87898961533375" stroke="#f74690" stroke-width="0.7"/>
<line x1="108.45" y1="196.72101038466627" x2="111.64999999999999" y2="196.72101038466627" stroke="#f74690" stroke-width="0.7"/>
<line x1="108.45" y1="203.87898961533375" x2="111.64999999999999" y2="203.87898961533375" stroke="#f74690" stroke-width="0.7"/>
<circle cx="107.7" cy="196.6" r="2.1" fill="#f5006a"/>
<circle cx="110.0" cy="197.7" r="2.1" fill="#f5006a"/>
<circle cx="112.4" cy="197.3" r="2.1" fill="#f5006a"/>
<circle cx="110.2" cy="204.3" r="2.1" fill="#f5006a"/>
<path d="M127.50,272.4 V214.15 H134.40 V272.4" fill="none" stroke="#222" stroke-width="0.9"/>
<line x1="130.95" y1="211.90370752195898" x2="130.95" y2="215.496292478041" stroke="#444" stroke-width="0.7"/>
<line x1="129.35" y1="211.90370752195898" x2="132.54999999999998" y2="211.90370752195898" stroke="#444" stroke-width="0.7"/>
<line x1="129.35" y1="215.496292478041" x2="132.54999999999998" y2="215.496292478041" stroke="#444" stroke-width="0.7"/>
<circle cx="128.3" cy="211.2" r="2.1" fill="#111"/>
<circle cx="130.6" cy="212.2" r="2.1" fill="#111"/>
<circle cx="133.2" cy="213.2" r="2.1" fill="#111"/>
<circle cx="128.7" cy="215.4" r="2.1" fill="#111"/>
<path d="M140.10,272.4 V197.05 H147.20 V272.4" fill="none" stroke="#f74690" stroke-width="0.9"/>
<line x1="143.64999999999998" y1="195.61005050633884" x2="143.64999999999998" y2="197.58994949366115" stroke="#f74690" stroke-width="0.7"/>
<line x1="142.04999999999998" y1="195.61005050633884" x2="145.24999999999997" y2="195.61005050633884" stroke="#f74690" stroke-width="0.7"/>
<line x1="142.04999999999998" y1="197.58994949366115" x2="145.24999999999997" y2="197.58994949366115" stroke="#f74690" stroke-width="0.7"/>
<circle cx="141.5" cy="196.5" r="2.1" fill="#f5006a"/>
<circle cx="143.4" cy="195.6" r="2.1" fill="#f5006a"/>
<circle cx="145.3" cy="196.7" r="2.1" fill="#f5006a"/>
<circle cx="141.2" cy="198.0" r="2.1" fill="#f5006a"/>
<path d="M160.90,272.4 V227.45 H168.10 V272.4" fill="none" stroke="#222" stroke-width="0.9"/>
<line x1="164.5" y1="219.0545610568075" x2="164.5" y2="234.9454389431925" stroke="#444" stroke-width="0.7"/>
<line x1="162.9" y1="219.0545610568075" x2="166.1" y2="219.0545610568075" stroke="#444" stroke-width="0.7"/>
<line x1="162.9" y1="234.9454389431925" x2="166.1" y2="234.9454389431925" stroke="#444" stroke-width="0.7"/>
<circle cx="164.7" cy="216.3" r="2.1" fill="#111"/>
<circle cx="164.7" cy="224.7" r="2.1" fill="#111"/>
<circle cx="164.7" cy="229.9" r="2.1" fill="#111"/>
<circle cx="164.7" cy="234.9" r="2.1" fill="#111"/>
<path d="M173.50,272.4 V199.45 H180.40 V272.4" fill="none" stroke="#f74690" stroke-width="0.9"/>
<line x1="176.95" y1="194.78139043443616" x2="176.95" y2="203.21860956556384" stroke="#f74690" stroke-width="0.7"/>
<line x1="175.35" y1="194.78139043443616" x2="178.54999999999998" y2="194.78139043443616" stroke="#f74690" stroke-width="0.7"/>
<line x1="175.35" y1="203.21860956556384" x2="178.54999999999998" y2="203.21860956556384" stroke="#f74690" stroke-width="0.7"/>
<circle cx="174.4" cy="196.6" r="2.1" fill="#f5006a"/>
<circle cx="179.3" cy="194.6" r="2.1" fill="#f5006a"/>
<circle cx="174.4" cy="203.4" r="2.1" fill="#f5006a"/>
<circle cx="179.3" cy="202.0" r="2.1" fill="#f5006a"/>
<path d="M194.40,272.4 V242.15 H201.50 V272.4" fill="none" stroke="#5aa8a8" stroke-width="0.9"/>
<line x1="197.95" y1="237.1971305444935" x2="197.95" y2="246.2028694555065" stroke="#5aa8a8" stroke-width="0.7"/>
<line x1="196.35" y1="237.1971305444935" x2="199.54999999999998" y2="237.1971305444935" stroke="#5aa8a8" stroke-width="0.7"/>
<line x1="196.35" y1="246.2028694555065" x2="199.54999999999998" y2="246.2028694555065" stroke="#5aa8a8" stroke-width="0.7"/>
<circle cx="199.8" cy="234.5" r="2.1" fill="#0a7e7e"/>
<circle cx="195.3" cy="237.6" r="2.1" fill="#0a7e7e"/>
<circle cx="200.3" cy="242.4" r="2.1" fill="#0a7e7e"/>
<circle cx="195.3" cy="244.4" r="2.1" fill="#0a7e7e"/>
<line x1="93.4" y1="192.2" x2="112.9" y2="192.2" stroke="#666" stroke-width="1.0"/>
<polygon points="100.73,185.45 101.28,187.03 102.96,187.07 101.63,188.09 102.11,189.70 100.73,188.75 99.34,189.70 99.82,188.09 98.49,187.07 100.17,187.03" fill="#222"/>
<polygon points="105.58,185.45 106.13,187.03 107.81,187.07 106.48,188.09 106.96,189.70 105.58,188.75 104.19,189.70 104.67,188.09 103.34,187.07 105.02,187.03" fill="#222"/>
<line x1="126.8" y1="191.4" x2="146.4" y2="191.4" stroke="#666" stroke-width="1.0"/>
<polygon points="129.32,183.85 129.88,185.43 131.56,185.47 130.23,186.49 130.71,188.10 129.32,187.15 127.94,188.10 128.42,186.49 127.09,185.47 128.77,185.43" fill="#222"/>
<polygon points="134.17,183.85 134.73,185.43 136.41,185.47 135.08,186.49 135.56,188.10 134.17,187.15 132.79,188.10 133.27,186.49 131.94,185.47 133.62,185.43" fill="#222"/>
<polygon points="139.03,183.85 139.58,185.43 141.26,185.47 139.93,186.49 140.41,188.10 139.03,187.15 137.64,188.10 138.12,186.49 136.79,185.47 138.47,185.43" fill="#222"/>
<polygon points="143.88,183.85 144.43,185.43 146.11,185.47 144.78,186.49 145.26,188.10 143.88,187.15 142.49,188.10 142.97,186.49 141.64,185.47 143.32,185.43" fill="#222"/>
<line x1="161.0" y1="190.5" x2="180.5" y2="190.5" stroke="#666" stroke-width="1.0"/>
<polygon points="165.90,183.25 166.46,184.83 168.13,184.87 166.80,185.89 167.28,187.50 165.90,186.55 164.52,187.50 165.00,185.89 163.67,184.87 165.34,184.83" fill="#222"/>
<polygon points="170.75,183.25 171.31,184.83 172.98,184.87 171.65,185.89 172.13,187.50 170.75,186.55 169.37,187.50 169.85,185.89 168.52,184.87 170.19,184.83" fill="#222"/>
<polygon points="175.60,183.25 176.16,184.83 177.83,184.87 176.50,185.89 176.98,187.50 175.60,186.55 174.22,187.50 174.70,185.89 173.37,184.87 175.04,184.83" fill="#222"/>
<text x="84.9" y="174.2" font-size="8.2" letter-spacing="-0.12" fill="#222"><tspan font-style="italic">P</tspan> = 0.0014</text>
<text x="119.9" y="181.2" font-size="8.2" letter-spacing="-0.12" fill="#222"><tspan font-style="italic">P</tspan> &lt; 0.0001</text>
<text x="157.7" y="174.2" font-size="8.2" letter-spacing="-0.12" fill="#222"><tspan font-style="italic">P</tspan> = 0.0009</text>
<text transform="translate(64.0,226.65) rotate(-90) scale(0.8929,1)" font-size="9.18" text-anchor="middle" fill="#000">PD-L1<tspan font-size="5.5" dy="-3.2">+</tspan><tspan dy="3.2"> </tspan>(%)</text>
<text x="230.0" y="157.9" font-size="12.5" text-anchor="start" font-weight="bold" font-style="normal" fill="#000" stroke="#000" stroke-width="0.35">f</text>
<circle cx="271.5" cy="156.2" r="2.4" fill="#111"/>
<text x="279.0" y="159.2" font-size="8.7" text-anchor="start" font-weight="normal" font-style="normal" fill="#222" >Bolus vaccine</text>
<circle cx="350.6" cy="156.2" r="2.4" fill="#f5006a"/>
<text x="358.1" y="159.2" font-size="8.7" text-anchor="start" font-weight="normal" font-style="normal" fill="#222" >DoriVac</text>
<line x1="260.4" y1="175.2" x2="260.4" y2="272.4" stroke="#6c6c6c" stroke-width="0.8"/>
<line x1="260.4" y1="272.4" x2="397.3" y2="272.4" stroke="#555" stroke-width="0.8"/>
<line x1="256.79999999999995" y1="272.4" x2="260.4" y2="272.4" stroke="#555" stroke-width="0.8"/>
<text x="253.59999999999997" y="275.4" font-size="8.5" text-anchor="end" font-weight="normal" font-style="normal" fill="#222" >0</text>
<line x1="256.79999999999995" y1="248.1" x2="260.4" y2="248.1" stroke="#555" stroke-width="0.8"/>
<text x="253.59999999999997" y="251.1" font-size="8.5" text-anchor="end" font-weight="normal" font-style="normal" fill="#222" >20</text>
<line x1="256.79999999999995" y1="223.8" x2="260.4" y2="223.8" stroke="#555" stroke-width="0.8"/>
<text x="253.59999999999997" y="226.8" font-size="8.5" text-anchor="end" font-weight="normal" font-style="normal" fill="#222" >40</text>
<line x1="256.79999999999995" y1="199.5" x2="260.4" y2="199.5" stroke="#555" stroke-width="0.8"/>
<text x="253.59999999999997" y="202.5" font-size="8.5" text-anchor="end" font-weight="normal" font-style="normal" fill="#222" >60</text>
<line x1="256.79999999999995" y1="175.2" x2="260.4" y2="175.2" stroke="#555" stroke-width="0.8"/>
<text x="253.59999999999997" y="178.2" font-size="8.5" text-anchor="end" font-weight="normal" font-style="normal" fill="#222" >80</text>
<line x1="275.9" y1="272.4" x2="275.9" y2="275.9" stroke="#555" stroke-width="0.8"/>
<text x="275.9" y="287.0" font-size="9.0" text-anchor="middle" font-weight="normal" font-style="normal" fill="#222" >CoV-2</text>
<line x1="311.5" y1="272.4" x2="311.5" y2="275.9" stroke="#555" stroke-width="0.8"/>
<text x="311.5" y="287.0" font-size="9.0" text-anchor="middle" font-weight="normal" font-style="normal" fill="#222" >HIV</text>
<line x1="346.4" y1="272.4" x2="346.4" y2="275.9" stroke="#555" stroke-width="0.8"/>
<text x="346.4" y="287.0" font-size="9.0" text-anchor="middle" font-weight="normal" font-style="normal" fill="#222" >Ebola</text>
<line x1="381.1" y1="272.4" x2="381.1" y2="275.9" stroke="#555" stroke-width="0.8"/>
<text x="381.1" y="287.0" font-size="9.0" text-anchor="middle" font-weight="normal" font-style="normal" fill="#222" >NC</text>
<path d="M265.50,272.4 V223.45 H273.50 V272.4" fill="none" stroke="#222" stroke-width="0.9"/>
<line x1="269.5" y1="218.3765993756399" x2="269.5" y2="227.6234006243601" stroke="#444" stroke-width="0.7"/>
<line x1="267.9" y1="218.3765993756399" x2="271.1" y2="218.3765993756399" stroke="#444" stroke-width="0.7"/>
<line x1="267.9" y1="227.6234006243601" x2="271.1" y2="227.6234006243601" stroke="#444" stroke-width="0.7"/>
<circle cx="269.2" cy="217.2" r="2.1" fill="#111"/>
<circle cx="266.2" cy="221.4" r="2.1" fill="#111"/>
<circle cx="272.4" cy="222.7" r="2.1" fill="#111"/>
<circle cx="269.2" cy="228.4" r="2.1" fill="#111"/>
<path d="M279.00,272.4 V208.75 H286.40 V272.4" fill="none" stroke="#f74690" stroke-width="0.9"/>
<line x1="282.7" y1="202.2287563053358" x2="282.7" y2="214.37124369466423" stroke="#f74690" stroke-width="0.7"/>
<line x1="281.09999999999997" y1="202.2287563053358" x2="284.3" y2="202.2287563053358" stroke="#f74690" stroke-width="0.7"/>
<line x1="281.09999999999997" y1="214.37124369466423" x2="284.3" y2="214.37124369466423" stroke="#f74690" stroke-width="0.7"/>
<circle cx="282.5" cy="197.7" r="2.1" fill="#f5006a"/>
<circle cx="280.0" cy="210.0" r="2.1" fill="#f5006a"/>
<circle cx="282.6" cy="209.5" r="2.1" fill="#f5006a"/>
<circle cx="285.1" cy="210.0" r="2.1" fill="#f5006a"/>
<path d="M301.10,272.4 V218.25 H308.40 V272.4" fill="none" stroke="#222" stroke-width="0.9"/>
<line x1="304.75" y1="217.1047782128462" x2="304.75" y2="218.4952217871538" stroke="#444" stroke-width="0.7"/>
<line x1="303.15" y1="217.1047782128462" x2="306.35" y2="217.1047782128462" stroke="#444" stroke-width="0.7"/>
<line x1="303.15" y1="218.4952217871538" x2="306.35" y2="218.4952217871538" stroke="#444" stroke-width="0.7"/>
<circle cx="302.0" cy="218.6" r="2.1" fill="#111"/>
<circle cx="304.3" cy="217.4" r="2.1" fill="#111"/>
<circle cx="307.0" cy="217.3" r="2.1" fill="#111"/>
<circle cx="305.0" cy="218.5" r="2.1" fill="#111"/>
<path d="M314.40,272.4 V210.45 H321.60 V272.4" fill="none" stroke="#f74690" stroke-width="0.9"/>
<line x1="318.0" y1="205.69157801509647" x2="318.0" y2="214.30842198490353" stroke="#f74690" stroke-width="0.7"/>
<line x1="316.4" y1="205.69157801509647" x2="319.6" y2="205.69157801509647" stroke="#f74690" stroke-width="0.7"/>
<line x1="316.4" y1="214.30842198490353" x2="319.6" y2="214.30842198490353" stroke="#f74690" stroke-width="0.7"/>
<circle cx="317.8" cy="202.0" r="2.1" fill="#f5006a"/>
<circle cx="316.0" cy="210.0" r="2.1" fill="#f5006a"/>
<circle cx="320.0" cy="210.0" r="2.1" fill="#f5006a"/>
<circle cx="318.0" cy="211.5" r="2.1" fill="#f5006a"/>
<path d="M336.30,272.4 V230.15 H343.50 V272.4" fill="none" stroke="#222" stroke-width="0.9"/>
<line x1="339.9" y1="226.9711418749472" x2="339.9" y2="232.42885812505278" stroke="#444" stroke-width="0.7"/>
<line x1="338.29999999999995" y1="226.9711418749472" x2="341.5" y2="226.9711418749472" stroke="#444" stroke-width="0.7"/>
<line x1="338.29999999999995" y1="232.42885812505278" x2="341.5" y2="232.42885812505278" stroke="#444" stroke-width="0.7"/>
<circle cx="340.1" cy="224.7" r="2.1" fill="#111"/>
<circle cx="338.1" cy="229.7" r="2.1" fill="#111"/>
<circle cx="341.7" cy="229.0" r="2.1" fill="#111"/>
<circle cx="339.0" cy="231.0" r="2.1" fill="#111"/>
<path d="M349.50,272.4 V208.45 H356.90 V272.4" fill="none" stroke="#f74690" stroke-width="0.9"/>
<line x1="353.2" y1="199.018537609795" x2="353.2" y2="216.981462390205" stroke="#f74690" stroke-width="0.7"/>
<line x1="351.59999999999997" y1="199.018537609795" x2="354.8" y2="199.018537609795" stroke="#f74690" stroke-width="0.7"/>
<line x1="351.59999999999997" y1="216.981462390205" x2="354.8" y2="216.981462390205" stroke="#f74690" stroke-width="0.7"/>
<circle cx="350.7" cy="199.6" r="2.1" fill="#f5006a"/>
<circle cx="354.8" cy="201.8" r="2.1" fill="#f5006a"/>
<circle cx="352.1" cy="204.0" r="2.1" fill="#f5006a"/>
<circle cx="353.4" cy="219.4" r="2.1" fill="#f5006a"/>
<path d="M371.30,272.4 V232.35 H379.50 V272.4" fill="none" stroke="#5aa8a8" stroke-width="0.9"/>
<line x1="375.4" y1="228.62140782245388" x2="375.4" y2="235.17859217754614" stroke="#5aa8a8" stroke-width="0.7"/>
<line x1="373.79999999999995" y1="228.62140782245388" x2="377.0" y2="228.62140782245388" stroke="#5aa8a8" stroke-width="0.7"/>
<line x1="373.79999999999995" y1="235.17859217754614" x2="377.0" y2="235.17859217754614" stroke="#5aa8a8" stroke-width="0.7"/>
<circle cx="377.7" cy="228.3" r="2.1" fill="#0a7e7e"/>
<circle cx="373.0" cy="230.2" r="2.1" fill="#0a7e7e"/>
<circle cx="377.1" cy="233.0" r="2.1" fill="#0a7e7e"/>
<circle cx="373.0" cy="235.8" r="2.1" fill="#0a7e7e"/>
<line x1="264.8" y1="193.3" x2="285.3" y2="193.3" stroke="#666" stroke-width="1.0"/>
<polygon points="272.62,186.45 273.18,188.03 274.86,188.07 273.53,189.09 274.01,190.70 272.62,189.75 271.24,190.70 271.72,189.09 270.39,188.07 272.07,188.03" fill="#222"/>
<polygon points="277.48,186.45 278.03,188.03 279.71,188.07 278.38,189.09 278.86,190.70 277.48,189.75 276.09,190.70 276.57,189.09 275.24,188.07 276.92,188.03" fill="#222"/>
<line x1="300.0" y1="193.3" x2="320.9" y2="193.3" stroke="#666" stroke-width="1.0"/>
<polygon points="308.02,186.45 308.58,188.03 310.26,188.07 308.93,189.09 309.41,190.70 308.02,189.75 306.64,190.70 307.12,189.09 305.79,188.07 307.47,188.03" fill="#222"/>
<polygon points="312.88,186.45 313.43,188.03 315.11,188.07 313.78,189.09 314.26,190.70 312.88,189.75 311.49,190.70 311.97,189.09 310.64,188.07 312.32,188.03" fill="#222"/>
<line x1="335.3" y1="194.8" x2="356.2" y2="194.8" stroke="#666" stroke-width="1.0"/>
<polygon points="343.32,187.75 343.88,189.33 345.56,189.37 344.23,190.39 344.71,192.00 343.32,191.05 341.94,192.00 342.42,190.39 341.09,189.37 342.77,189.33" fill="#222"/>
<polygon points="348.18,187.75 348.73,189.33 350.41,189.37 349.08,190.39 349.56,192.00 348.18,191.05 346.79,192.00 347.27,190.39 345.94,189.37 347.62,189.33" fill="#222"/>
<text x="263.7" y="184.6" font-size="8.2" letter-spacing="-0.12" fill="#222"><tspan font-style="italic">P</tspan> = 0.007</text>
<text x="293.3" y="176.7" font-size="8.2" letter-spacing="-0.12" fill="#222"><tspan font-style="italic">P</tspan> = 0.0097</text>
<text x="330.1" y="185.2" font-size="8.2" letter-spacing="-0.12" fill="#222"><tspan font-style="italic">P</tspan> = 0.0032</text>
<text transform="translate(238.0,224) rotate(-90) scale(0.8929,1)" font-size="9.97" text-anchor="middle" fill="#000">CD40<tspan font-size="5.5" dy="-3.2">+</tspan><tspan dy="3.2"> </tspan>(%)</text>
<text x="408.3" y="157.9" font-size="12.5" text-anchor="start" font-weight="bold" font-style="normal" fill="#000" stroke="#000" stroke-width="0.35">g</text>
<circle cx="449.4" cy="156.2" r="2.4" fill="#111"/>
<text x="456.9" y="159.2" font-size="8.7" text-anchor="start" font-weight="normal" font-style="normal" fill="#222" >Bolus vaccine</text>
<circle cx="528.5" cy="156.2" r="2.4" fill="#f5006a"/>
<text x="536.0" y="159.2" font-size="8.7" text-anchor="start" font-weight="normal" font-style="normal" fill="#222" >DoriVac</text>
<line x1="440.3" y1="178.9" x2="440.3" y2="272.4" stroke="#6c6c6c" stroke-width="0.8"/>
<line x1="440.3" y1="272.4" x2="572.9" y2="272.4" stroke="#555" stroke-width="0.8"/>
<line x1="436.7" y1="272.4" x2="440.3" y2="272.4" stroke="#555" stroke-width="0.8"/>
<text x="433.5" y="275.4" font-size="8.5" text-anchor="end" font-weight="normal" font-style="normal" fill="#222" >0</text>
<line x1="436.7" y1="253.7" x2="440.3" y2="253.7" stroke="#555" stroke-width="0.8"/>
<text x="433.5" y="256.7" font-size="8.5" text-anchor="end" font-weight="normal" font-style="normal" fill="#222" >0.5</text>
<line x1="436.7" y1="235.0" x2="440.3" y2="235.0" stroke="#555" stroke-width="0.8"/>
<text x="433.5" y="238.0" font-size="8.5" text-anchor="end" font-weight="normal" font-style="normal" fill="#222" >1.0</text>
<line x1="436.7" y1="216.3" x2="440.3" y2="216.3" stroke="#555" stroke-width="0.8"/>
<text x="433.5" y="219.3" font-size="8.5" text-anchor="end" font-weight="normal" font-style="normal" fill="#222" >1.5</text>
<line x1="436.7" y1="197.6" x2="440.3" y2="197.6" stroke="#555" stroke-width="0.8"/>
<text x="433.5" y="200.6" font-size="8.5" text-anchor="end" font-weight="normal" font-style="normal" fill="#222" >2.0</text>
<line x1="436.7" y1="178.9" x2="440.3" y2="178.9" stroke="#555" stroke-width="0.8"/>
<text x="433.5" y="181.9" font-size="8.5" text-anchor="end" font-weight="normal" font-style="normal" fill="#222" >2.5</text>
<line x1="455.4" y1="272.4" x2="455.4" y2="275.9" stroke="#555" stroke-width="0.8"/>
<text x="455.4" y="287.0" font-size="9.0" text-anchor="middle" font-weight="normal" font-style="normal" fill="#222" >CoV-2</text>
<line x1="489.6" y1="272.4" x2="489.6" y2="275.9" stroke="#555" stroke-width="0.8"/>
<text x="489.6" y="287.0" font-size="9.0" text-anchor="middle" font-weight="normal" font-style="normal" fill="#222" >HIV</text>
<line x1="523.4" y1="272.4" x2="523.4" y2="275.9" stroke="#555" stroke-width="0.8"/>
<text x="523.4" y="287.0" font-size="9.0" text-anchor="middle" font-weight="normal" font-style="normal" fill="#222" >Ebola</text>
<line x1="557.3" y1="272.4" x2="557.3" y2="275.9" stroke="#555" stroke-width="0.8"/>
<text x="557.3" y="287.0" font-size="9.0" text-anchor="middle" font-weight="normal" font-style="normal" fill="#222" >NC</text>
<path d="M445.30,272.4 V243.05 H452.60 V272.4" fill="none" stroke="#222" stroke-width="0.9"/>
<line x1="448.95000000000005" y1="236.14070437276632" x2="448.95000000000005" y2="249.05929562723367" stroke="#444" stroke-width="0.7"/>
<line x1="447.35" y1="236.14070437276632" x2="450.55000000000007" y2="236.14070437276632" stroke="#444" stroke-width="0.7"/>
<line x1="447.35" y1="249.05929562723367" x2="450.55000000000007" y2="249.05929562723367" stroke="#444" stroke-width="0.7"/>
<circle cx="449.0" cy="234.0" r="2.1" fill="#111"/>
<circle cx="446.5" cy="244.8" r="2.1" fill="#111"/>
<circle cx="451.4" cy="246.0" r="2.1" fill="#111"/>
<circle cx="446.0" cy="248.7" r="2.1" fill="#111"/>
<path d="M458.40,272.4 V204.35 H465.50 V272.4" fill="none" stroke="#f74690" stroke-width="0.9"/>
<line x1="461.95" y1="197.05" x2="461.95" y2="210.75" stroke="#f74690" stroke-width="0.7"/>
<line x1="460.34999999999997" y1="197.05" x2="463.55" y2="197.05" stroke="#f74690" stroke-width="0.7"/>
<line x1="460.34999999999997" y1="210.75" x2="463.55" y2="210.75" stroke="#f74690" stroke-width="0.7"/>
<circle cx="461.7" cy="196.1" r="2.1" fill="#f5006a"/>
<circle cx="459.5" cy="204.6" r="2.1" fill="#f5006a"/>
<circle cx="464.3" cy="207.6" r="2.1" fill="#f5006a"/>
<circle cx="461.9" cy="212.4" r="2.1" fill="#f5006a"/>
<path d="M479.40,272.4 V224.55 H486.70 V272.4" fill="none" stroke="#222" stroke-width="0.9"/>
<line x1="483.04999999999995" y1="219.94187542274165" x2="483.04999999999995" y2="228.25812457725834" stroke="#444" stroke-width="0.7"/>
<line x1="481.44999999999993" y1="219.94187542274165" x2="484.65" y2="219.94187542274165" stroke="#444" stroke-width="0.7"/>
<line x1="481.44999999999993" y1="228.25812457725834" x2="484.65" y2="228.25812457725834" stroke="#444" stroke-width="0.7"/>
<circle cx="481.4" cy="220.4" r="2.1" fill="#111"/>
<circle cx="485.6" cy="219.4" r="2.1" fill="#111"/>
<circle cx="483.1" cy="224.8" r="2.1" fill="#111"/>
<circle cx="483.1" cy="228.4" r="2.1" fill="#111"/>
<path d="M492.20,272.4 V200.65 H499.30 V272.4" fill="none" stroke="#f74690" stroke-width="0.9"/>
<line x1="495.75" y1="192.65082785995708" x2="495.75" y2="207.7491721400429" stroke="#f74690" stroke-width="0.7"/>
<line x1="494.15" y1="192.65082785995708" x2="497.35" y2="192.65082785995708" stroke="#f74690" stroke-width="0.7"/>
<line x1="494.15" y1="207.7491721400429" x2="497.35" y2="207.7491721400429" stroke="#f74690" stroke-width="0.7"/>
<circle cx="493.6" cy="193.4" r="2.1" fill="#f5006a"/>
<circle cx="499.0" cy="193.4" r="2.1" fill="#f5006a"/>
<circle cx="495.8" cy="203.9" r="2.1" fill="#f5006a"/>
<circle cx="495.3" cy="208.3" r="2.1" fill="#f5006a"/>
<path d="M513.40,272.4 V239.85 H521.10 V272.4" fill="none" stroke="#222" stroke-width="0.9"/>
<line x1="517.25" y1="235.6543358399344" x2="517.25" y2="243.14566416006562" stroke="#444" stroke-width="0.7"/>
<line x1="515.65" y1="235.6543358399344" x2="518.85" y2="235.6543358399344" stroke="#444" stroke-width="0.7"/>
<line x1="515.65" y1="243.14566416006562" x2="518.85" y2="243.14566416006562" stroke="#444" stroke-width="0.7"/>
<circle cx="517.2" cy="235.0" r="2.1" fill="#111"/>
<circle cx="514.8" cy="238.9" r="2.1" fill="#111"/>
<circle cx="519.6" cy="241.3" r="2.1" fill="#111"/>
<circle cx="514.8" cy="243.8" r="2.1" fill="#111"/>
<path d="M526.40,272.4 V205.55 H533.40 V272.4" fill="none" stroke="#f74690" stroke-width="0.9"/>
<line x1="529.9" y1="193.31035058479966" x2="529.9" y2="216.88964941520032" stroke="#f74690" stroke-width="0.7"/>
<line x1="528.3" y1="193.31035058479966" x2="531.5" y2="193.31035058479966" stroke="#f74690" stroke-width="0.7"/>
<line x1="528.3" y1="216.88964941520032" x2="531.5" y2="216.88964941520032" stroke="#f74690" stroke-width="0.7"/>
<circle cx="530.1" cy="190.1" r="2.1" fill="#f5006a"/>
<circle cx="527.6" cy="203.7" r="2.1" fill="#f5006a"/>
<circle cx="532.2" cy="205.8" r="2.1" fill="#f5006a"/>
<circle cx="530.1" cy="218.9" r="2.1" fill="#f5006a"/>
<path d="M547.40,272.4 V249.55 H555.00 V272.4" fill="none" stroke="#5aa8a8" stroke-width="0.9"/>
<line x1="551.2" y1="247.53581757244666" x2="551.2" y2="250.66418242755333" stroke="#5aa8a8" stroke-width="0.7"/>
<line x1="549.6" y1="247.53581757244666" x2="552.8000000000001" y2="247.53581757244666" stroke="#5aa8a8" stroke-width="0.7"/>
<line x1="549.6" y1="250.66418242755333" x2="552.8000000000001" y2="250.66418242755333" stroke="#5aa8a8" stroke-width="0.7"/>
<circle cx="548.9" cy="247.9" r="2.1" fill="#0a7e7e"/>
<circle cx="552.6" cy="249.1" r="2.1" fill="#0a7e7e"/>
<circle cx="553.8" cy="249.0" r="2.1" fill="#0a7e7e"/>
<circle cx="549.4" cy="251.6" r="2.1" fill="#0a7e7e"/>
<line x1="444.4" y1="190.5" x2="464.5" y2="190.5" stroke="#666" stroke-width="1.0"/>
<polygon points="449.60,184.05 450.16,185.63 451.83,185.67 450.50,186.69 450.98,188.30 449.60,187.35 448.22,188.30 448.70,186.69 447.37,185.67 449.04,185.63" fill="#222"/>
<polygon points="454.45,184.05 455.01,185.63 456.68,185.67 455.35,186.69 455.83,188.30 454.45,187.35 453.07,188.30 453.55,186.69 452.22,185.67 453.89,185.63" fill="#222"/>
<polygon points="459.30,184.05 459.86,185.63 461.53,185.67 460.20,186.69 460.68,188.30 459.30,187.35 457.92,188.30 458.40,186.69 457.07,185.67 458.74,185.63" fill="#222"/>
<line x1="479.0" y1="188.8" x2="498.5" y2="188.8" stroke="#666" stroke-width="1.0"/>
<polygon points="486.32,181.55 486.88,183.13 488.56,183.17 487.23,184.19 487.71,185.80 486.32,184.85 484.94,185.80 485.42,184.19 484.09,183.17 485.77,183.13" fill="#222"/>
<polygon points="491.18,181.55 491.73,183.13 493.41,183.17 492.08,184.19 492.56,185.80 491.18,184.85 489.79,185.80 490.27,184.19 488.94,183.17 490.62,183.13" fill="#222"/>
<line x1="513.8" y1="185.9" x2="533.6" y2="185.9" stroke="#666" stroke-width="1.0"/>
<polygon points="521.28,179.75 521.83,181.33 523.51,181.37 522.18,182.39 522.66,184.00 521.28,183.05 519.89,184.00 520.37,182.39 519.04,181.37 520.72,181.33" fill="#222"/>
<polygon points="526.12,179.75 526.68,181.33 528.36,181.37 527.03,182.39 527.51,184.00 526.12,183.05 524.74,184.00 525.22,182.39 523.89,181.37 525.57,181.33" fill="#222"/>
<text x="442.3" y="181.6" font-size="8.2" letter-spacing="-0.12" fill="#222"><tspan font-style="italic">P</tspan> = 0.0002</text>
<text x="474.5" y="170.3" font-size="8.2" letter-spacing="-0.12" fill="#222"><tspan font-style="italic">P</tspan> = 0.0017</text>
<text x="507.8" y="178.5" font-size="8.2" letter-spacing="-0.12" fill="#222"><tspan font-style="italic">P</tspan> = 0.0014</text>
<text transform="translate(416.0,225.2) rotate(-90) scale(0.8929,1)" font-size="9.97" text-anchor="middle" fill="#000">CD40<tspan font-size="5.5" dy="-3.2">+</tspan><tspan dy="3.2"> </tspan>DEC205<tspan font-size="5.5" dy="-3.2">+</tspan><tspan dy="3.2"> </tspan>(%)</text>
</svg></body></html>
